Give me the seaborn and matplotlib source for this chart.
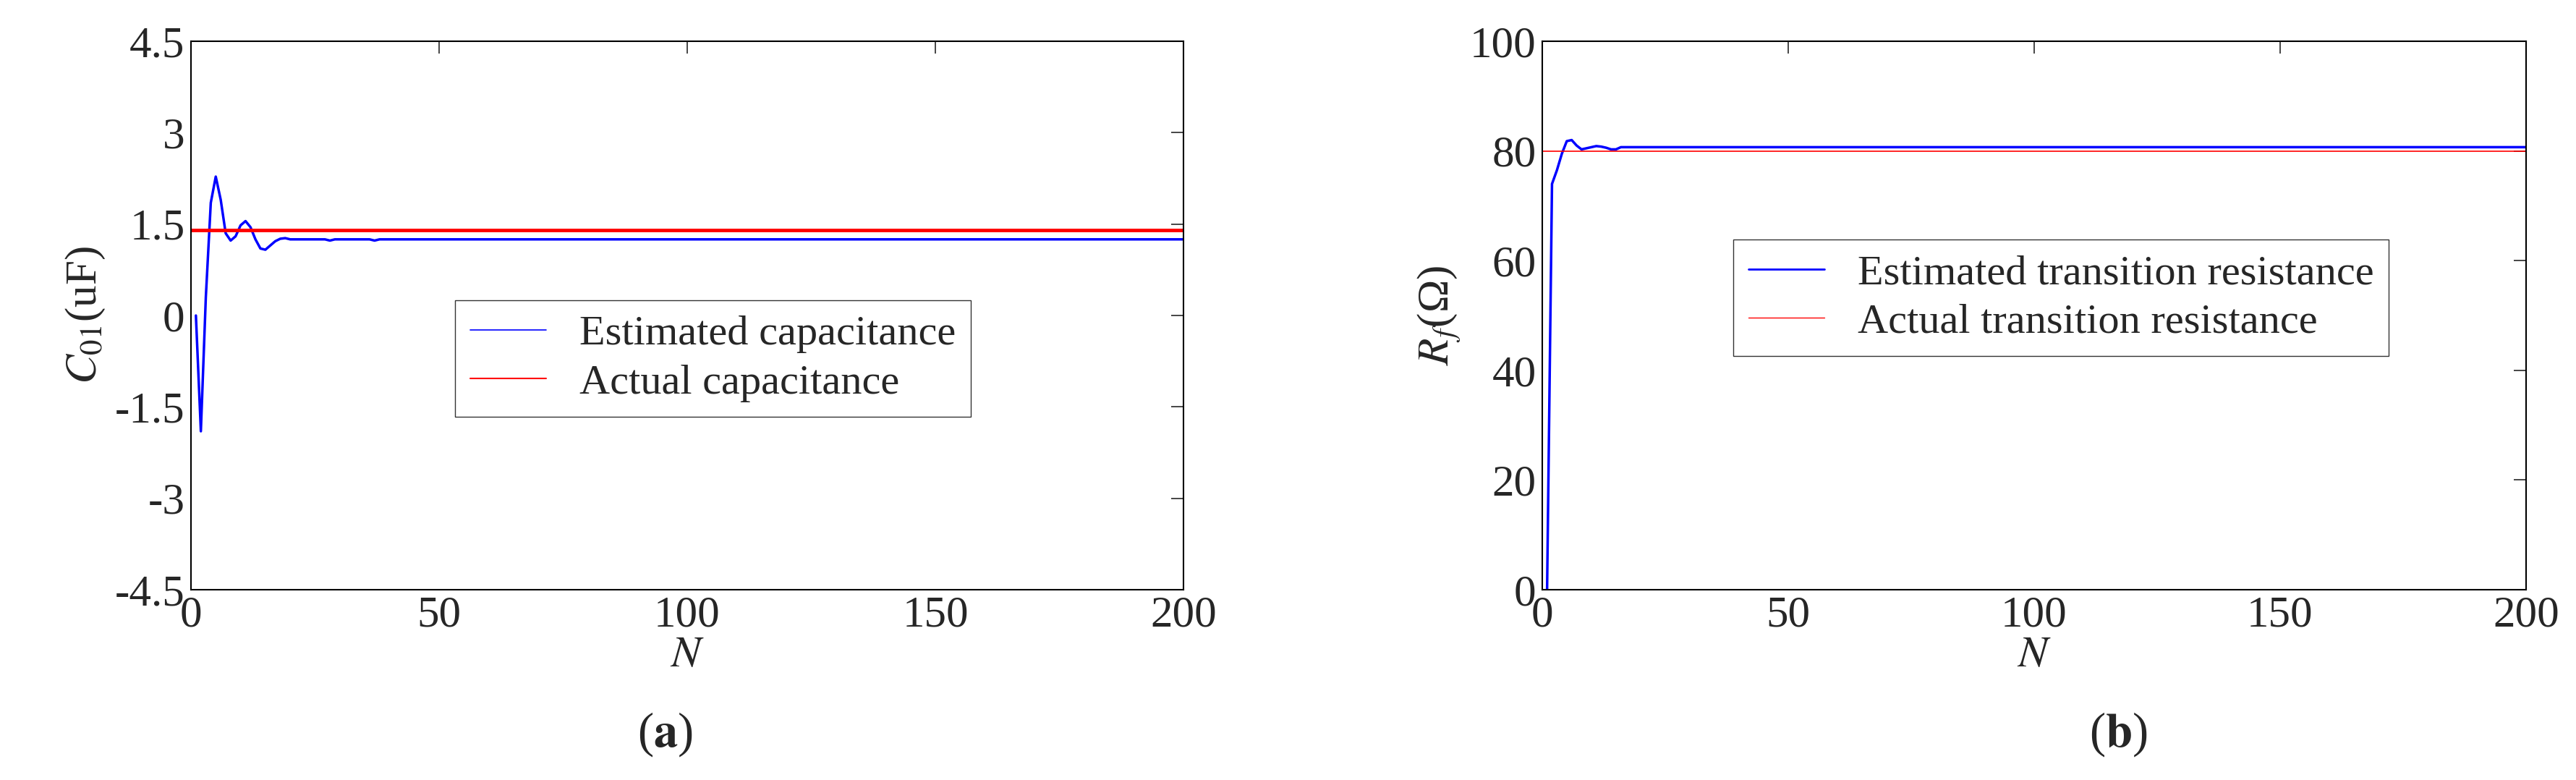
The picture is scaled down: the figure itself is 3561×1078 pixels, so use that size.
import numpy as np
import pandas as pd
import seaborn as sns
import matplotlib
matplotlib.use('Agg')
import matplotlib.pyplot as plt

# values
n_cap = [1, 2, 3, 4, 5, 6, 7, 8, 9, 10, 11, 12, 13, 14, 15, 16, 17, 18, 19, 20,
         27, 28, 29, 36, 37, 38, 200]
est_cap = [0, -1.9, 0.3, 1.85, 2.28, 1.9, 1.35, 1.23, 1.3, 1.48, 1.55, 1.45, 1.25, 1.1,
           1.08, 1.15, 1.22, 1.26, 1.27, 1.25, 1.25, 1.23, 1.25, 1.25, 1.23, 1.25, 1.25]
actual_cap = 1.4

n_res = [1, 2, 3, 4, 5, 6, 7, 8, 9, 10, 11, 12, 13, 14, 15, 16, 200]
est_res = [0, 74, 76.5, 79.5, 81.8, 82, 81, 80.3, 80.5, 80.7, 80.9, 80.8, 80.6, 80.3,
           80.3, 80.7, 80.7]
actual_res = 80

x_ticks = [0, 50, 100, 150, 200]
cap_ticks = [-4.5, -3, -1.5, 0, 1.5, 3, 4.5]
res_ticks = [0, 20, 40, 60, 80, 100]

sns.set_style('white')
plt.rcParams['font.family'] = ['Liberation Serif', 'DejaVu Serif']
plt.rcParams['mathtext.fontset'] = 'stix'
plt.rcParams['axes.unicode_minus'] = False

fig = plt.figure(figsize=(35.62, 10.78), dpi=100)
ax1 = fig.add_axes([0.0741, 0.244, 0.3852, 0.703])
ax2 = fig.add_axes([0.5985, 0.244, 0.3818, 0.703])

df_cap = pd.DataFrame({'N': n_cap, 'C': est_cap})
df_res = pd.DataFrame({'N': n_res, 'R': est_res})

# (a) capacitance
sns.lineplot(data=df_cap, x='N', y='C', ax=ax1, color='#0000ff', linewidth=2.5,
             label='Estimated capacitance')
ax1.axhline(actual_cap, color='#ff0000', linewidth=3.5, label='Actual capacitance')
ax1.set_xlim(0, 200)
ax1.set_ylim(-4.5, 4.5)
ax1.set_xticks(x_ticks)
ax1.set_yticks(cap_ticks)
ax1.set_yticklabels(['-4.5', '-3', '-1.5', '0', '1.5', '3', '4.5'])
ax1.set_ylabel('$C_{01}$(uF)', fontsize=44, labelpad=8)
leg1 = ax1.legend(loc='upper left', bbox_to_anchor=(0.245, 0.566), fontsize=42,
                  frameon=True, fancybox=False, edgecolor='black', handlelength=1.8,
                  borderpad=0.35, labelspacing=0.25)
leg1.get_lines()[0].set_linewidth(1.2)
leg1.get_lines()[1].set_linewidth(1.5)

# (b) transition resistance
sns.lineplot(data=df_res, x='N', y='R', ax=ax2, color='#0000ff', linewidth=2.5,
             label='Estimated transition resistance')
ax2.axhline(actual_res, color='#ff0000', linewidth=1.2, label='Actual transition resistance')
ax2.set_xlim(0, 200)
ax2.set_ylim(0, 100)
ax2.set_xticks(x_ticks)
ax2.set_yticks(res_ticks)
ax2.set_ylabel('$R_f$(Ω)', fontsize=44, labelpad=8)
leg2 = ax2.legend(loc='upper left', bbox_to_anchor=(0.173, 0.677), fontsize=42,
                  frameon=True, fancybox=False, edgecolor='black', handlelength=1.8,
                  borderpad=0.35, labelspacing=0.25)
leg2.get_lines()[0].set_linewidth(2)
leg2.get_lines()[1].set_linewidth(1)

for ax in (ax1, ax2):
    ax.set_xlabel('$N$', fontsize=44, labelpad=0)
    ax.tick_params(direction='in', length=12, width=1.2, labelsize=44,
                   top=True, right=True, pad=6)
    for sp in ax.spines.values():
        sp.set_color('black')
        sp.set_linewidth(1.5)

fig.text(0.258, 0.058, r'($\mathbf{a}$)', fontsize=48, ha='center', va='center')
fig.text(0.822, 0.058, r'($\mathbf{b}$)', fontsize=48, ha='center', va='center')

plt.savefig('out.png', dpi=100)
